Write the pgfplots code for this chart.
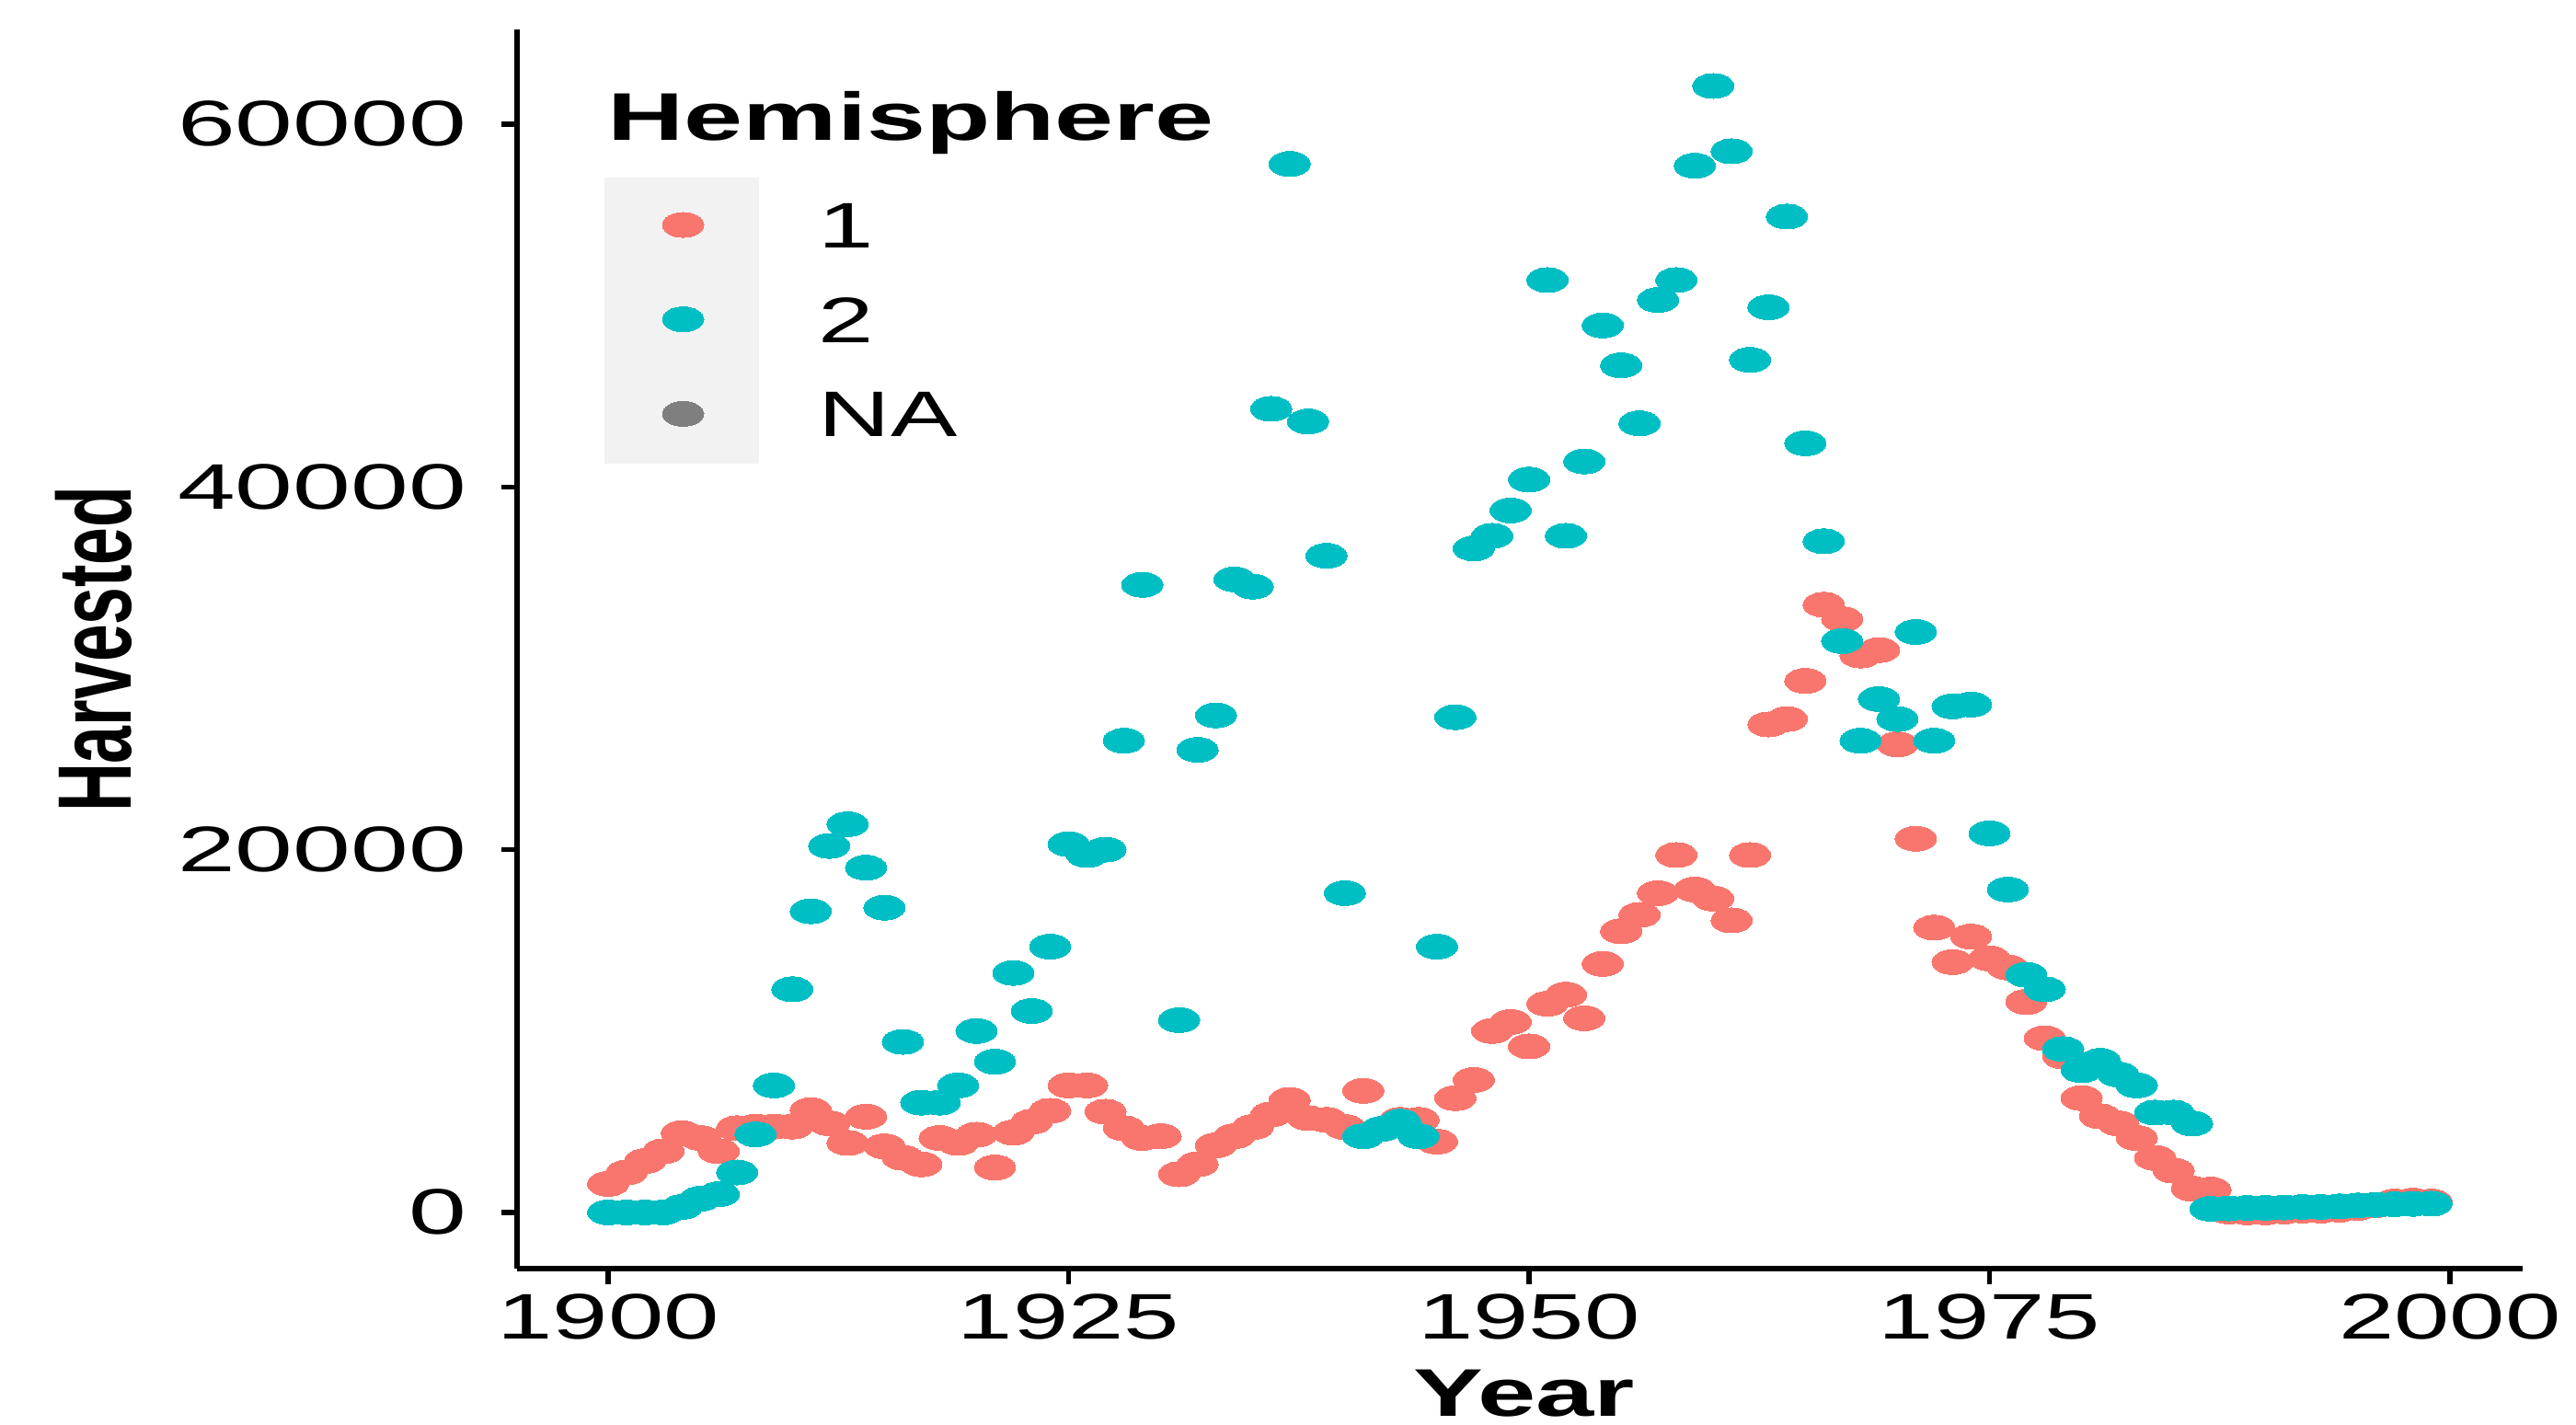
\documentclass[border=0pt]{standalone}
\usepackage{fontspec}
\setmainfont{Liberation Sans}
\usepackage{pgfplots}
\pgfplotsset{compat=1.18}
\usepackage{pgfplotstable}

\definecolor{hemione}{HTML}{F8766D}
\definecolor{hemitwo}{HTML}{00BFC4}
\definecolor{hemina}{HTML}{7F7F7F}
\definecolor{keybg}{HTML}{F2F2F2}

% Hemisphere 1
\pgfplotstableread{
year harvested
1900 1570
1901 2200
1902 2830
1903 3370
1904 4370
1905 4100
1906 3370
1907 4640
1908 4730
1909 4730
1910 4730
1911 5640
1912 4910
1913 3830
1914 5280
1915 3640
1916 3010
1917 2650
1918 4100
1919 3830
1920 4280
1921 2470
1922 4400
1923 5000
1924 5600
1925 7000
1926 7000
1927 5550
1928 4640
1929 4100
1930 4200
1931 2100
1932 2650
1933 3700
1934 4200
1935 4700
1936 5400
1937 6200
1938 5200
1939 5100
1940 4700
1941 6700
1942 4600
1943 5100
1944 5100
1945 3900
1946 6300
1947 7300
1948 10000
1949 10500
1950 9150
1951 11500
1952 12000
1953 10700
1954 13700
1955 15500
1956 16400
1957 17600
1958 19700
1959 17800
1960 17300
1961 16100
1962 19700
1963 26900
1964 27200
1965 29300
1966 33500
1967 32700
1968 30700
1969 31000
1970 25800
1971 20600
1972 15700
1973 13800
1974 15200
1975 14000
1976 13500
1977 11600
1978 9600
1979 8600
1980 6300
1981 5300
1982 4900
1983 4100
1984 3000
1985 2300
1986 1300
1987 1250
1988 50
1989 0
1990 0
1991 50
1992 100
1993 100
1994 150
1995 250
1996 400
1997 600
1998 650
1999 600
}\hemone

% Hemisphere 2 (no value for 1930)
\pgfplotstableread{
year harvested
1900 0
1901 0
1902 0
1903 0
1904 300
1905 750
1906 1000
1907 2200
1908 4300
1909 7000
1910 12300
1911 16600
1912 20200
1913 21400
1914 19000
1915 16800
1916 9400
1917 6050
1918 6050
1919 7000
1920 10000
1921 8300
1922 13200
1923 11100
1924 14650
1925 20300
1926 19700
1927 20000
1928 26000
1929 34600
1931 10600
1932 25500
1933 27400
1934 34900
1935 34500
1936 44300
1937 57800
1938 43600
1939 36200
1940 17600
1941 4200
1942 4600
1943 5000
1944 4200
1945 14650
1946 27300
1947 36600
1948 37300
1949 38700
1950 40400
1951 51400
1952 37300
1953 41400
1954 48900
1955 46700
1956 43500
1957 50300
1958 51400
1959 57700
1960 62100
1961 58500
1962 47000
1963 49900
1964 54900
1965 42400
1966 37000
1967 31500
1968 26000
1969 28300
1970 27200
1971 32000
1972 26000
1973 27900
1974 28000
1975 20900
1976 17800
1977 13100
1978 12300
1979 9000
1980 7840
1981 8350
1982 7600
1983 7000
1984 5500
1985 5500
1986 4900
1987 200
1988 220
1989 250
1990 250
1991 270
1992 300
1993 300
1994 330
1995 380
1996 420
1997 450
1998 470
1999 480
}\hemtwo

\begin{document}
\begin{tikzpicture}
\begin{axis}[name=ax,
  scale only axis, width=327pt, height=202pt,
  xmin=1895.05, xmax=2003.95, ymin=-3100, ymax=65200,
  axis lines=left,
  axis line style={-, line width=1pt, black},
  xtick={1900,1925,1950,1975,2000},
  ytick={0,20000,40000,60000},
  scaled y ticks=false,
  /pgf/number format/1000 sep={},
  /pgf/number format/assume math mode=true,
  tick align=outside,
  major tick length=2.6pt,
  tick style={line width=0.8pt, black},
  ticklabel style={font=\fontsize{10.5}{12}\selectfont, inner sep=0pt, xscale=1.55},
  xticklabel style={anchor=north},
  yticklabel style={anchor=east, xscale=1.04},
  xticklabel shift=1.4pt,
  yticklabel shift=5.35pt,
  legend style={at={(axis description cs:0.0719,0.862)}, anchor=north west,
    draw=none, fill=none, inner sep=0pt, row sep=7.9pt, column sep=18.7pt,
    font=\fontsize{10.5}{12}\selectfont,
    nodes={inner sep=0pt, text height=7.5pt, text depth=0pt, xscale=1.55}},
  legend cell align=left,
  legend image code/.code={\draw[#1] plot coordinates {(0pt,0pt)};},
  every axis plot/.append style={only marks, mark=*, mark size=2.03pt},
]
  % grey background of the legend keys
  \fill[keybg] (axis description cs:0.0436,0.8804) rectangle (axis description cs:0.1206,0.6495);

  \addplot[color=hemione, mark options={xscale=1.66, line width=0pt, fill=hemione}]
    table[x=year, y=harvested] {\hemone};
  \addlegendentry{1}
  \addplot[color=hemitwo, mark options={xscale=1.66, line width=0pt, fill=hemitwo}]
    table[x=year, y=harvested] {\hemtwo};
  \addlegendentry{2}
  \addlegendimage{only marks, mark=*, mark size=2.03pt, color=hemina,
    mark options={xscale=1.66, line width=0pt, fill=hemina}}
  \addlegendentry{NA}
\end{axis}

\node[anchor=base west, inner sep=0pt, font=\fontsize{11}{13}\selectfont\bfseries, xscale=1.57]
  at ([xshift=14.5pt, yshift=-18pt]ax.north west) {Hemisphere};
\node[anchor=north, inner sep=0pt, font=\fontsize{11}{13}\selectfont\bfseries, xscale=1.55]
  at ([xshift=0.75pt, yshift=-16.35pt]ax.south) {Year};
\node[inner sep=0pt, font=\fontsize{11}{13}\selectfont\bfseries, xscale=1.55, rotate=90]
  at ([xshift=-69pt]ax.west) {Harvested};

\pgfresetboundingbox
\path (ax.south west) ++(-84.3pt,-25.5pt) rectangle ++(420pt,232.35pt);
\end{tikzpicture}
\end{document}
